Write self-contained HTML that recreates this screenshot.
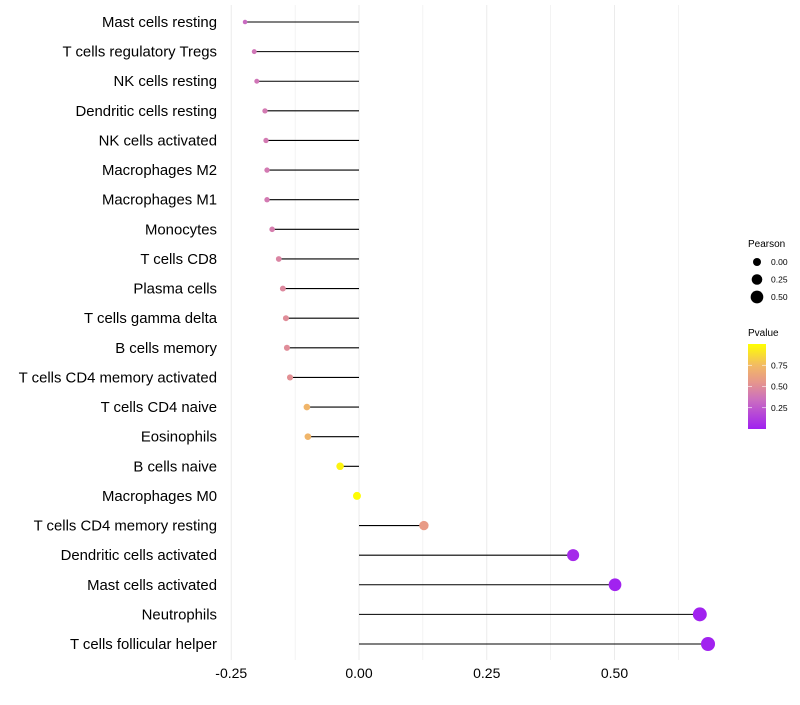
<!DOCTYPE html>
<html><head><meta charset="utf-8"><style>
body{margin:0;background:#fff;font-family:"Liberation Sans",sans-serif;}
</style></head><body>
<svg id="chart" width="800" height="700" xmlns="http://www.w3.org/2000/svg" font-family="Liberation Sans, sans-serif"></svg>
<script>
const categories=["Mast cells resting","T cells regulatory  Tregs","NK cells resting","Dendritic cells resting","NK cells activated","Macrophages M2","Macrophages M1","Monocytes","T cells CD8","Plasma cells","T cells gamma delta","B cells memory","T cells CD4 memory activated","T cells CD4 naive","Eosinophils","B cells naive","Macrophages M0","T cells CD4 memory resting","Dendritic cells activated","Mast cells activated","Neutrophils","T cells follicular helper"];
const pearson=[-0.223,-0.205,-0.200,-0.184,-0.182,-0.180,-0.180,-0.170,-0.157,-0.149,-0.143,-0.141,-0.135,-0.102,-0.100,-0.037,-0.004,0.127,0.419,0.501,0.667,0.683];
const pvalues=[0.33,0.38,0.38,0.40,0.40,0.40,0.40,0.42,0.46,0.48,0.50,0.50,0.52,0.72,0.72,0.96,0.99,0.58,0.04,0.01,0.01,0.01];
const xTicks=[-0.25,0,0.25,0.5];
const xTickLabels=["-0.25","0.00","0.25","0.50"];
const sizeLegend=[0,0.25,0.5];
const sizeLegendLabels=["0.00","0.25","0.50"];
const pTicks=[0.25,0.5,0.75];
const pTickLabels=["0.25","0.50","0.75"];

const svg=document.getElementById('chart');
const NS="http://www.w3.org/2000/svg";
function mk(t,a,p){const e=document.createElementNS(NS,t);for(const k in a)e.setAttribute(k,a[k]);(p||svg).appendChild(e);return e;}
const x=v=>359+v*511;
const y=i=>22+i*(622/21);
const r=v=>Math.sqrt(Math.max(2,15.95+v*48.6));
const stops=[[0,[160,32,240]],[0.35,[204,112,190]],[0.55,[230,150,140]],[0.75,[242,186,100]],[1,[255,255,0]]];
function col(p){p=Math.max(0,Math.min(1,p));for(let i=1;i<stops.length;i++){if(p<=stops[i][0]){const a=stops[i-1],b=stops[i];const t=(p-a[0])/(b[0]-a[0]);const c=a[1].map((v,j)=>Math.round(v+(b[1][j]-v)*t));return `rgb(${c})`;}}return 'rgb(255,255,0)';}

const grid=mk('g',{});


for(let v=-0.25;v<=0.7;v+=0.125){mk('line',{x1:x(v),x2:x(v),y1:5,y2:660,stroke:'#ebebeb','stroke-width':Math.abs((v*8)%2)<0.01?1:0.6},grid);}
xTicks.forEach((v,i)=>{const t=mk('text',{x:x(v),y:678,'text-anchor':'middle','font-size':14,fill:'#000'});


t.textContent=xTickLabels[i];});
categories.forEach((c,i)=>{
 const t=mk('text',{x:217,y:y(i)+5,'text-anchor':'end','font-size':14.9,fill:'#000'});
 
 
 t.textContent=c;
 const l=mk('line',{x1:x(0),x2:x(pearson[i]),y1:y(i),y2:y(i),stroke:'#000','stroke-width':1.1});
 
 
 const d=mk('circle',{cx:x(pearson[i]),cy:y(i),r:r(pearson[i]),fill:col(pvalues[i])});
 
 
});
const lt=mk('text',{x:748,y:247,'font-size':10,fill:'#000'});


lt.textContent='Pearson';
sizeLegend.forEach((v,i)=>{const cy=262+i*17.5;
 const c=mk('circle',{cx:757,cy:cy,r:r(v),fill:'#000'});
 
 
 const t=mk('text',{x:771,y:cy+3,'font-size':8.5,fill:'#000'});
 
 
 t.textContent=sizeLegendLabels[i];});
const pt=mk('text',{x:748,y:336,'font-size':10,fill:'#000'});


pt.textContent='Pvalue';
const defs=mk('defs',{});const lg=mk('linearGradient',{id:'pg',x1:0,y1:1,x2:0,y2:0},defs);
stops.forEach(s=>mk('stop',{offset:s[0],'stop-color':`rgb(${s[1]})`},lg));
const bar=mk('rect',{x:748,y:344,width:18,height:85,fill:'url(#pg)'});


const py=p=>429-p*85;
pTicks.forEach((p,i)=>{mk('line',{x1:748,x2:752,y1:py(p),y2:py(p),stroke:'#fff','stroke-width':0.6});mk('line',{x1:762,x2:766,y1:py(p),y2:py(p),stroke:'#fff','stroke-width':0.6});
 const t=mk('text',{x:771,y:py(p)+3,'font-size':8.5,fill:'#000'});
 
 
 t.textContent=pTickLabels[i];});
</script>
</body></html>
